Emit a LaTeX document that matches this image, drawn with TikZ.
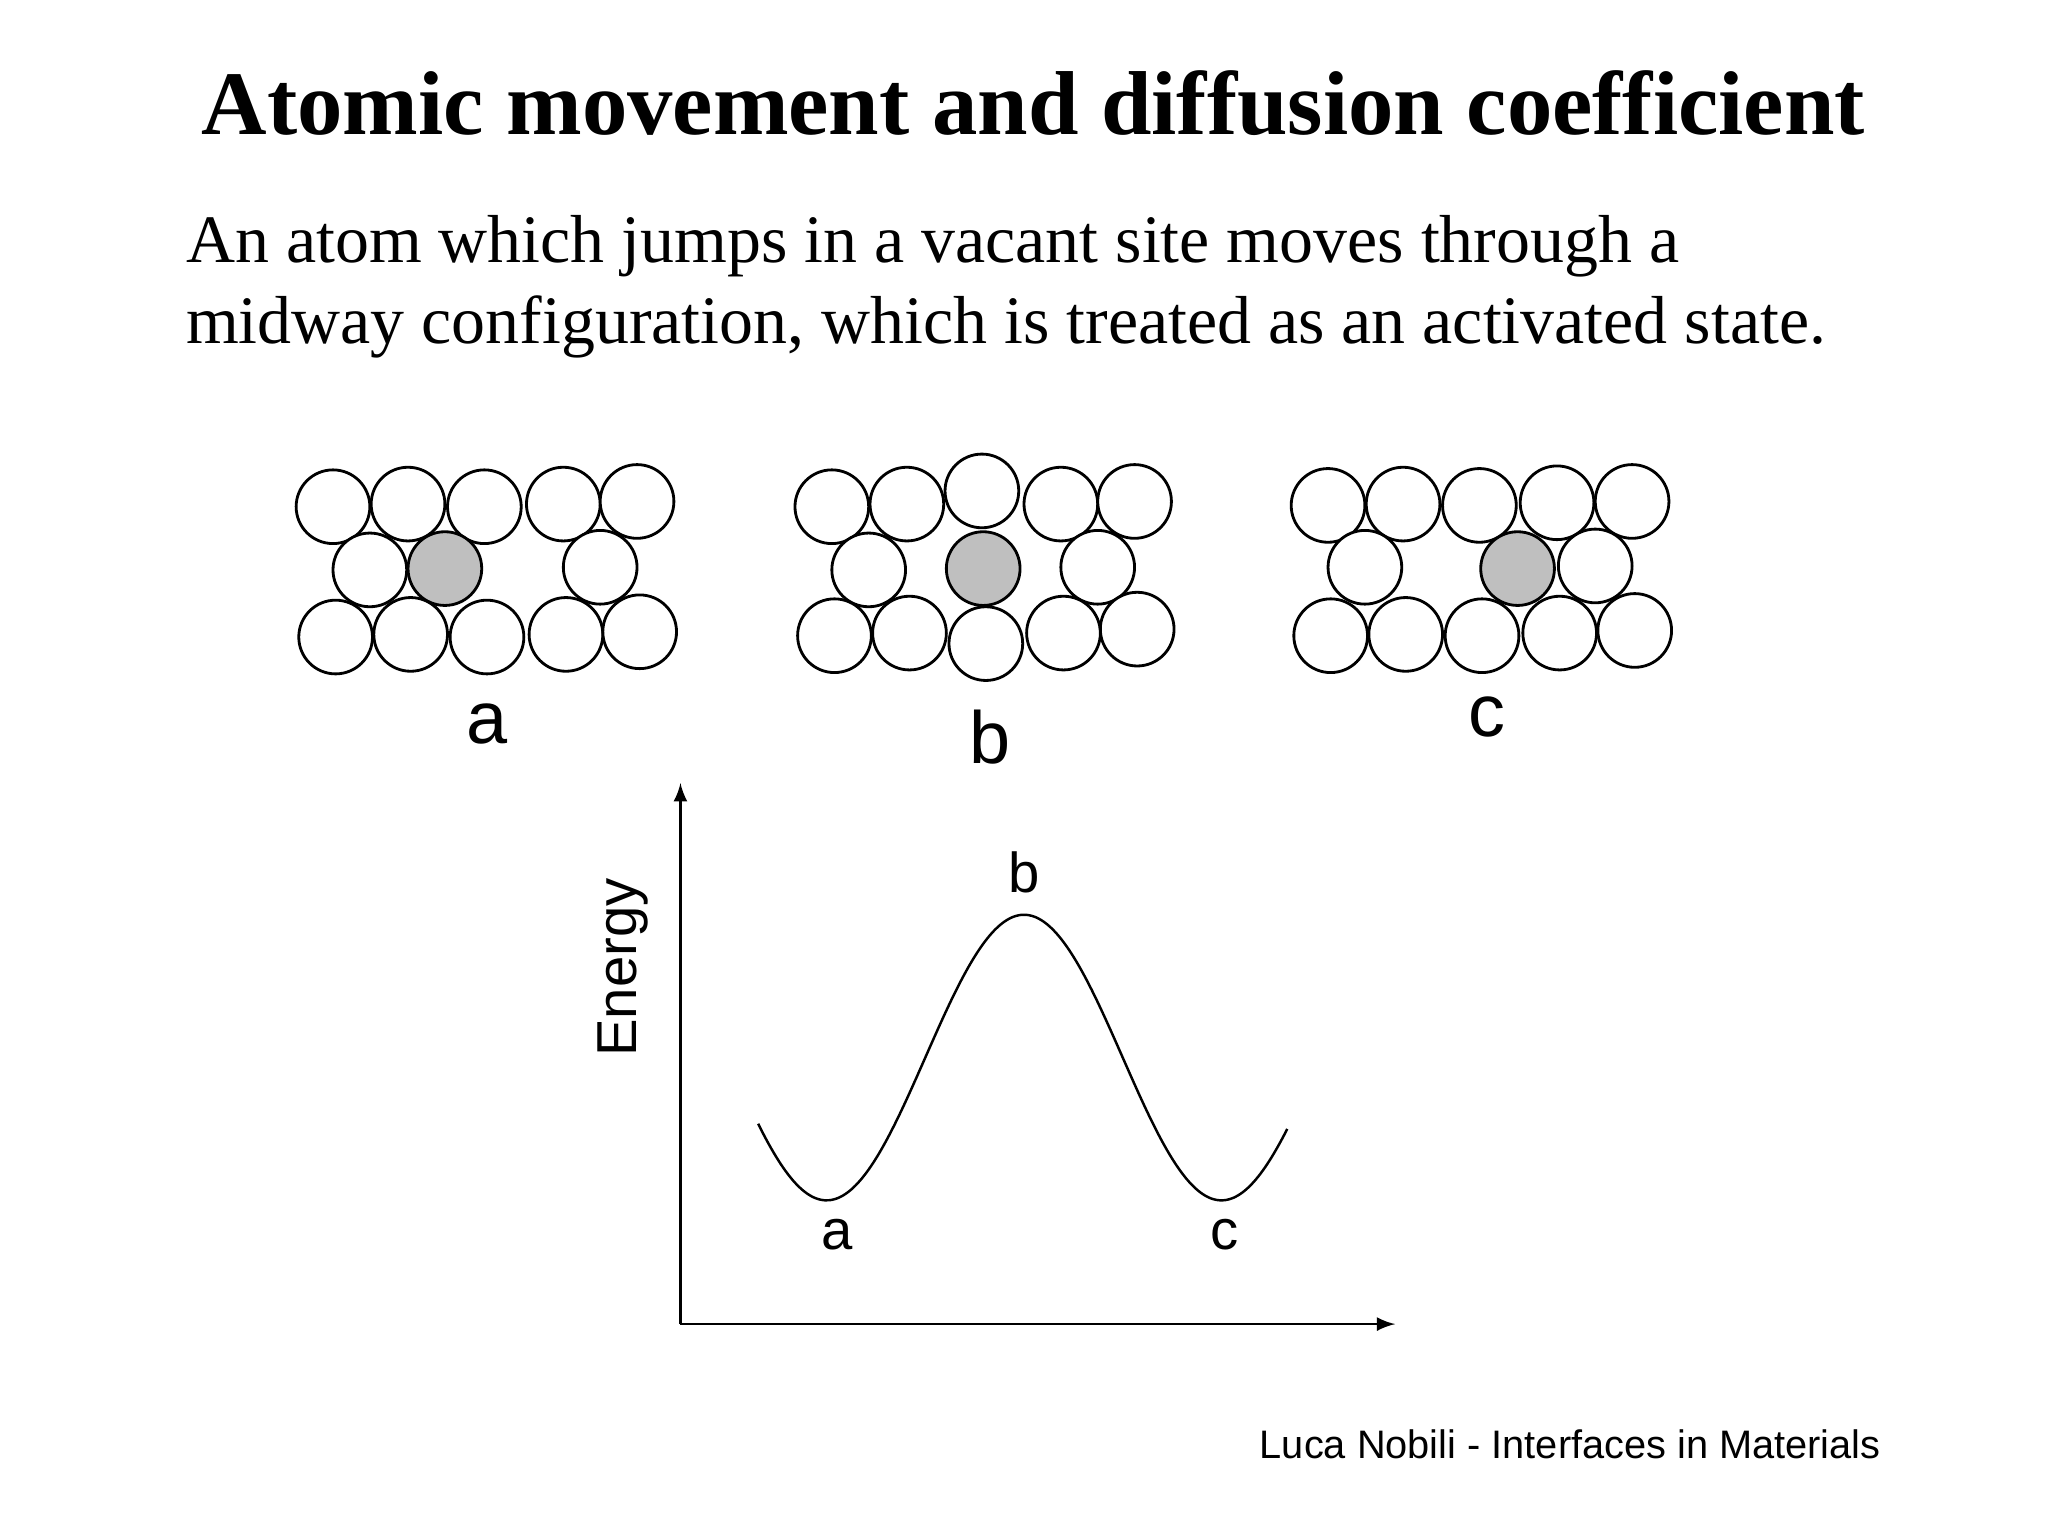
\documentclass[tikz,border=0pt]{standalone}
\usepackage{fontspec}
\setmainfont{Liberation Serif}
\setsansfont{Liberation Sans}
\begin{document}
\begin{tikzpicture}[x=0.01316cm,y=-0.01316cm,
  whiteatom/.style={draw,line width=0.8pt,fill=white},
  grayatom/.style={draw,line width=0.8pt,fill=black!25},
  lbl/.style={font=\sffamily\fontsize{21}{25}\selectfont},
  glbl/.style={font=\sffamily\fontsize{16}{19}\selectfont}]
\useasboundingbox (0,0) rectangle (1556,1167);
\node (title) at (785,78) {\bfseries\fontsize{25.8}{30}\selectfont Atomic movement and diffusion coefficient};
\node[anchor=west,align=left,font=\fontsize{19.3}{23}\selectfont] (body) at (132,218) {An atom which jumps in a vacant site moves through a\\midway configuration, which is treated as an activated state.};
\def\R{28}
\foreach \p in {(253,385),(310,383),(368,385),(428,383),(484,381),(281,433),(456,431),(255,484),(312,482),(370,484),(430,482),(486,480),
 (632,385),(689,383),(746,373),(806,383),(862,381),(660,433),(834,431),(634,483),(691,481),(749,489),(808,481),(864,478),
 (1009,384),(1066,383),(1124,384),(1183,382),(1240,381),(1037,431),(1212,430),(1011,483),(1068,482),(1126,483),(1185,481),(1242,479)}
  \path[whiteatom] \p circle[radius=\R];
\path[grayatom] (338,432) circle[radius=\R];
\path[grayatom] (747,432) circle[radius=\R];
\path[grayatom] (1153,432) circle[radius=\R];
\node[lbl] (la) at (370,550) {a};
\node[lbl] (lb) at (752,560) {b};
\node[lbl] (lc) at (1130,545) {c};
\coordinate (o) at (517,1006);
\coordinate (ytop) at (517,595);
\coordinate (xend) at (1060,1006);
\draw[-latex,line width=0.8pt] (o) -- (ytop);
\draw[-latex,line width=0.8pt] (o) -- (xend);
\draw[line width=0.7pt,domain=-202:200,samples=120,smooth] plot ({778+\x},{803.5-108.5*cos(1.2*\x)});
\node[glbl] (gb) at (778,663) {b};
\node[glbl] (ga) at (636,938) {a};
\node[glbl] (gc) at (930,938) {c};
\node[glbl,rotate=90] (en) at (473,735) {Energy};
\node[font=\sffamily\fontsize{11.3}{13}\selectfont] (foot) at (1193,1097) {Luca Nobili - Interfaces in Materials};
\end{tikzpicture}
\end{document}
